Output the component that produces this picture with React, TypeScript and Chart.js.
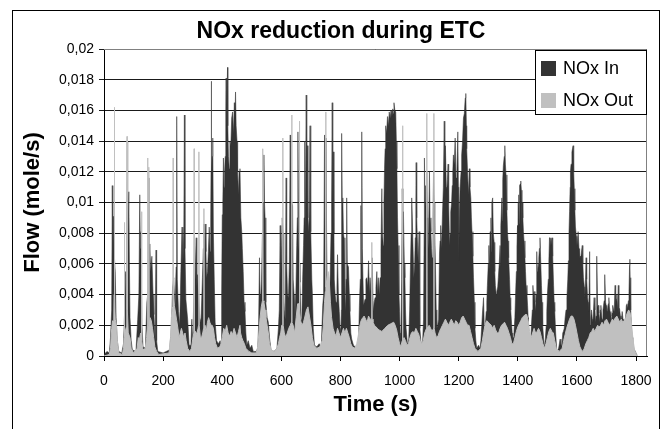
import React, { useEffect, useRef } from "react";
import { Chart, registerables } from "chart.js";

Chart.register(...registerables);

// values in 0.001 mole/s, [time (s), flow]
const UNIT = 0.001;

const NOX_IN: [number, number][] = [
  [0,0.1],[10,0.3],[18,0.2],[22,1.2],[26,3],[28,11.1],[30,6],[32,9.1],[35,6.5],[38,5.5],[41,2.5],[45,1],[50,0.3],[60,0.2],
  [66,0.8],[70,3],[73,5.5],[76,5],[79,14],[80,6],[84,10.7],[86,6],[88,2.5],[92,1],[96,0.4],[108,0.3],[114,2.4],[118,4],
  [121,10.5],[123,7],[125,8.1],[128,2.2],[132,0.6],[140,0.5],[145,3.5],[148,4],[150,11.6],[152,5],[155,7.3],[158,5.5],
  [162,6.5],[166,4],[169,2.7],[173,1],[176,6.9],[178,1],[182,0.3],[200,0.2],[222,0.4],[228,1.8],[232,4.5],[236,5.1],
  [240,3],[244,5.8],[246,15.6],[248,5],[252,2.9],[256,2],[260,5.5],[264,8.4],[267,6],[270,8],[272,15.7],[274,7],[277,3.7],
  [283,2.4],[288,0.7],[294,0.7],[297,2.4],[300,0.8],[304,3.8],[306,8.2],[308,5],[312,7.7],[314,4.5],[316,5.3],[319,4],
  [324,2.5],[328,2.2],[333,5.1],[336,7],[338,8.6],[340,6],[342,8.6],[345,6.8],[347,5.1],[350,5.5],[353,6.8],[356,8.4],
  [359,6.8],[361,9],[362,12],[363,17.9],[364,12],[366,13],[368,14.2],[370,8.1],[373,5],[376,2.2],[381,1],[387,0.8],
  [393,1],[396,0.6],[398,4],[400,9.2],[402,10],[404,12.9],[406,11],[408,12],[410,13],[412,15.9],[413,18.1],[414,15],
  [416,16],[418,18.8],[419,15],[421,13],[424,12.2],[426,14],[429,13.7],[432,15.5],[435,15.9],[438,14.5],[441,16.5],
  [443,15.5],[445,17.2],[447,15],[450,14],[452,12],[455,10.5],[457,12],[460,12.2],[463,9],[466,8.1],[468,7],[471,5.5],
  [474,3.5],[477,2.9],[480,1.5],[483,0.7],[488,1],[494,0.5],[500,0.7],[505,0.3],[515,0.3],[520,0.5],[523,2],[526,6.4],
  [528,4],[530,3.8],[533,5],[536,8],[538,10],[541,13.1],[543,10],[545,9],[547,5],[548,3.5],[552,2.5],[556,2.2],[560,1.2],
  [565,0.4],[575,0.3],[585,0.5],[590,1.8],[593,3],[596,8.5],[598,5],[601,7.2],[603,9],[606,8],[608,4],[610,3],[613,2.4],
  [616,11.6],[618,6],[621,4],[624,3.8],[627,6],[630,14.4],[632,7],[635,10],[638,9.8],[640,5],[643,4],[646,2.4],[649,4],
  [652,7.2],[654,9],[656,14.6],[658,8],[661,6],[663,4.8],[666,2.5],[669,2.2],[672,5],[675,7.2],[677,9],[679,14],[681,8],
  [684,17],[686,12],[688,13.7],[690,9],[693,8.1],[695,10],[697,15],[699,9],[700,8.1],[703,5],[705,4],[708,1.8],[712,0.7],
  [720,0.6],[728,0.8],[735,0.6],[740,3.3],[743,4],[746,14.4],[748,6],[751,14.2],[753,8],[755,4.6],[758,3],[762,3.5],
  [765,5],[768,8],[770,10],[772,16.5],[774,10],[776,13.3],[778,8],[779,5],[782,4],[785,3.5],[788,4.5],[790,6.6],[793,4],
  [796,2.9],[799,1.8],[801,1.1],[803,3],[804,14.5],[806,10],[808,10.3],[810,8],[812,7.7],[815,4],[817,2.9],[819,5],
  [821,10.3],[823,6],[827,5.8],[830,4],[832,2.9],[835,1.5],[838,1.1],[844,0.7],[855,0.5],[861,0.8],[864,3.3],[867,5],
  [869,9.8],[870,6],[872,14.6],[874,7],[878,3.3],[883,3.7],[886,5],[889,5.1],[892,4.5],[895,6.2],[898,4],[900,5.1],
  [904,4],[907,6.4],[911,2.9],[914,3.5],[917,3.8],[920,4.5],[923,5.5],[926,4],[928,5.1],[931,4],[934,5.1],[937,7],
  [940,10.9],[942,8],[945,7.2],[947,10],[949,12.2],[951,13.5],[953,15],[956,14.5],[959,15.6],[962,15],[965,15.9],
  [968,15.5],[971,16],[974,15.6],[977,16.1],[979,15.8],[981,16.5],[984,16],[987,15.9],[989,14],[991,12.2],[993,9],
  [995,7.2],[998,4],[1000,2.9],[1002,1.5],[1004,0.7],[1007,5],[1009,10.9],[1011,8],[1013,9.4],[1016,6],[1018,5.1],
  [1020,3],[1022,1.8],[1027,0.7],[1031,1.1],[1034,3],[1036,5.1],[1039,8],[1041,10.3],[1043,9],[1045,9],[1048,5.1],
  [1051,6],[1053,7.7],[1055,10],[1056,12.6],[1058,9],[1060,7.7],[1063,6],[1066,8.1],[1068,4],[1069,1.8],[1072,1],
  [1075,0.7],[1078,1],[1081,2.4],[1083,8],[1084,12.9],[1086,10],[1088,11.1],[1090,9],[1092,12],[1094,9],[1095,6.4],
  [1098,8],[1101,12],[1103,9],[1106,8.1],[1108,7],[1110,6.4],[1113,9],[1115,12.1],[1117,10],[1119,8],[1121,6.2],[1124,3],
  [1126,1.8],[1129,2],[1132,2.4],[1135,6.7],[1137,7.5],[1139,8.5],[1142,7],[1145,9.2],[1148,11],[1151,15.3],[1153,12],
  [1155,13.7],[1158,11],[1160,10.9],[1162,11.5],[1164,12.5],[1166,10],[1169,7.2],[1171,8],[1173,9.4],[1176,10],
  [1178,11.1],[1180,12],[1182,13.1],[1185,12.5],[1188,14.2],[1191,11.6],[1194,12],[1197,14.6],[1199,11],[1200,6.2],
  [1202,9],[1205,11.1],[1208,12],[1210,13.1],[1213,14],[1216,15.5],[1219,15.8],[1222,16.8],[1224,17.1],[1226,15],
  [1227,13.5],[1230,12],[1233,10.5],[1236,12.2],[1238,11],[1241,10.3],[1243,9],[1245,8.1],[1248,6.5],[1250,5.1],
  [1253,3.5],[1255,1.8],[1258,1],[1261,0.5],[1267,0.7],[1272,0.5],[1275,1],[1278,2],[1281,3],[1284,3.8],[1287,1.6],
  [1290,2],[1293,2.9],[1295,3.5],[1297,4.6],[1300,6],[1302,7.2],[1304,5.5],[1306,8.1],[1309,9],[1311,6.8],[1312,10],
  [1315,10.3],[1317,8],[1320,7.4],[1322,5.5],[1324,4.6],[1327,4],[1329,4.2],[1332,4.5],[1334,5.1],[1337,6],[1340,7.2],
  [1342,5.8],[1343,8.5],[1346,10.3],[1348,8.8],[1349,11.5],[1351,12.4],[1354,13],[1356,13.7],[1358,12.5],[1360,11.8],
  [1363,9.5],[1365,8.1],[1367,7.5],[1369,6.4],[1372,5],[1374,3.8],[1376,3],[1378,2.4],[1381,1.5],[1383,1.1],[1385,1.2],
  [1387,1.6],[1390,2.5],[1392,3.8],[1395,5.5],[1397,7.2],[1399,8.5],[1400,6.6],[1401,10],[1403,10.5],[1405,8.6],
  [1406,11.1],[1408,11.2],[1410,11.4],[1412,10.8],[1414,8.2],[1415,10],[1417,9],[1419,8.1],[1421,7.5],[1424,6.4],
  [1426,5.5],[1428,4.6],[1431,4],[1433,3.3],[1435,2.5],[1436,1.6],[1439,1],[1442,0.7],[1444,1],[1446,2],[1449,3],
  [1451,4.6],[1453,4],[1455,4.2],[1458,3.5],[1460,2.9],[1462,4],[1464,6.8],[1466,5.5],[1468,5.7],[1470,6],[1471,6.4],
  [1473,7],[1475,7.7],[1477,6.5],[1480,4.6],[1482,3.5],[1484,2],[1487,1.2],[1489,0.7],[1491,0.8],[1493,1.1],[1496,2],
  [1498,2.9],[1500,4],[1503,5],[1505,6.2],[1507,7.7],[1509,7.7],[1512,7.2],[1514,7.5],[1516,7.7],[1518,6.5],[1521,4.6],
  [1523,3.5],[1525,2.9],[1528,1.5],[1532,0.3],[1538,0.5],[1543,1.1],[1546,0.7],[1549,0.7],[1552,1.5],[1554,1.6],
  [1557,1.8],[1560,2.5],[1563,3],[1566,3.8],[1569,5],[1571,6.2],[1573,8],[1575,9.4],[1577,11],[1578,12],[1580,12.5],
  [1583,13.3],[1585,13.5],[1587,13.7],[1589,12],[1591,10.9],[1593,9.5],[1595,8.4],[1598,7.8],[1600,7.2],[1602,7.5],
  [1604,8.1],[1607,7],[1609,6.4],[1611,6.5],[1613,6.4],[1616,6.9],[1618,7.2],[1620,6],[1622,5.1],[1625,4.5],[1627,3.8],
  [1629,5],[1631,6.4],[1633,5],[1636,3.8],[1638,3.5],[1640,2.9],[1643,6.8],[1645,2],[1647,2.5],[1649,3],[1652,2.4],
  [1654,2.2],[1656,3],[1658,3.8],[1661,3],[1663,2.2],[1665,2.6],[1667,6.5],[1670,3.2],[1672,3.3],[1674,2.8],[1676,2.2],
  [1679,3],[1681,3.3],[1683,2.8],[1685,2.4],[1688,3],[1690,3.3],[1692,3.6],[1694,5.3],[1697,3.5],[1699,3.3],[1701,3],
  [1703,2.9],[1706,3.4],[1708,3.8],[1710,3.2],[1712,2.9],[1715,2.6],[1717,2.2],[1719,2.8],[1721,3.3],[1724,3],[1726,2.9],
  [1729,4.6],[1731,3.3],[1733,3.7],[1735,4],[1737,3],[1740,4.6],[1742,2.8],[1744,3.1],[1747,2.6],[1749,2.2],[1751,2.5],
  [1753,2.9],[1756,2.4],[1758,1.8],[1760,2],[1762,2.2],[1765,2.6],[1767,3.3],[1769,3.4],[1771,3.1],[1774,3.6],[1776,4.2],
  [1778,5.9],[1779,6.3],[1780,5.1],[1782,3],[1785,1.6],[1787,1.2],[1789,0.7],[1792,0.5],[1794,0.4],[1798,0.3],[1803,0],
];

const NOX_OUT: [number, number][] = [
  [0,0],[18,0.1],[22,0.5],[26,1.8],[29,2.3],[33,2.2],[34,4],[35,16.2],[36,4],[38,2.4],[42,2],[45,1],[50,0.2],[62,0.1],
  [66,0.5],[68,1.2],[69,8.7],[70,1.5],[73,1.7],[76,1.9],[77,4],[78,14.3],[79,3],[82,1.5],[88,1.2],[92,0.5],[100,0.2],
  [112,0.5],[116,1.2],[120,1.1],[124,1.5],[126,1.3],[127,9.4],[128,1],[132,0.4],[140,0.5],[144,1.2],[147,2],[148,12.9],
  [149,2],[151,1.8],[152,12.3],[153,2],[156,2.5],[160,2.3],[164,1.8],[168,1.2],[172,0.6],[178,0.3],[185,0.1],[220,0.2],
  [225,1.2],[228,2.5],[232,3.2],[233,4],[234,12.9],[235,4],[238,3.3],[242,2.8],[246,2.3],[250,1.8],[254,1.2],[258,1.5],
  [262,1.8],[266,1.5],[270,1.2],[274,1.5],[278,1],[283,0.5],[290,0.3],[296,0.5],[300,1.1],[304,1.5],[305,13.5],[306,1.6],
  [310,1.6],[314,1.4],[318,1.8],[320,2],[321,13.3],[322,2],[326,1.2],[330,1.2],[334,1.5],[337,1.8],[338,9.6],[339,1.8],
  [342,2],[346,1.6],[350,2.2],[354,2.5],[358,2.2],[362,2],[366,2],[370,1.8],[374,1.2],[378,0.8],[384,0.5],[392,0.6],
  [396,0.8],[400,1.2],[405,1.8],[410,1.6],[415,2],[420,1.5],[425,1.3],[430,1.6],[435,1.4],[440,1.8],[445,1.5],[450,1.2],
  [455,1.6],[460,2],[462,1.5],[466,1.2],[470,1],[475,0.8],[480,0.5],[490,0.3],[500,0.2],[515,0.2],[520,0.6],[524,1.5],
  [528,2.5],[532,3.2],[536,3.6],[537,13.5],[538,3.6],[541,3.5],[545,3],[548,2.5],[552,2],[556,1.5],[560,0.8],[566,0.4],
  [575,0.3],[585,0.5],[590,0.8],[594,1.2],[598,1.5],[601,2],[604,2],[605,14.2],[606,2],[610,1.5],[615,1.2],[620,1.5],
  [625,1.8],[630,2],[634,2.2],[635,15.7],[636,2.2],[640,2],[645,1.5],[650,2.5],[655,3.4],[660,3.4],[661,15.3],[662,3],
  [665,2.3],[670,2],[675,2.2],[680,2.6],[685,3],[690,3.2],[695,2.6],[700,2],[705,1.2],[710,0.7],[720,0.5],[730,0.6],
  [738,1],[742,2],[746,3.5],[749,4.2],[750,15.9],[751,4.5],[754,5],[758,5.5],[762,5],[766,3.5],[770,2.5],[775,1.8],
  [780,1.5],[785,1.3],[790,1.8],[795,1.5],[800,1.2],[805,1.5],[810,1.8],[815,1.5],[820,1.8],[825,1.5],[830,1.2],
  [835,0.8],[840,0.6],[848,0.5],[855,0.8],[860,1.3],[864,1.8],[868,2.2],[872,2.4],[876,2.5],[880,2.6],[885,2.4],
  [890,2.2],[895,2.6],[900,2.4],[905,2.4],[906,7.4],[907,2.4],[910,2.2],[915,2],[920,1.9],[925,1.8],[930,1.7],[940,1.6],
  [950,1.8],[960,2],[970,2.1],[980,2.2],[985,2],[990,1.7],[995,1.2],[1000,0.8],[1004,0.6],[1009,1],[1010,15],[1011,1],
  [1015,1.2],[1020,1],[1025,0.7],[1030,0.8],[1035,1.2],[1040,1.5],[1045,1.6],[1050,1.5],[1055,1.8],[1060,1.6],[1065,1.4],
  [1070,1],[1075,0.8],[1080,1],[1085,1.5],[1091,1.8],[1092,15.8],[1093,1.8],[1100,2],[1105,1.8],[1110,1.6],[1115,1.8],
  [1116,15.8],[1117,1.8],[1120,1.5],[1125,1.2],[1130,1.3],[1135,1.6],[1140,1.8],[1145,2],[1150,2.2],[1155,2.4],[1160,2.2],
  [1165,2],[1170,2.2],[1175,2.4],[1180,2.2],[1185,2],[1190,2.3],[1195,2.2],[1200,2],[1205,2.2],[1210,2.5],[1215,2.6],
  [1220,2.4],[1225,2.2],[1230,2],[1235,2],[1240,1.6],[1245,1.2],[1250,0.8],[1255,0.5],[1265,0.3],[1275,0.5],[1280,1],
  [1285,1.6],[1290,2.1],[1295,2.3],[1300,2.2],[1305,2.1],[1310,2],[1315,1.8],[1320,2],[1325,1.7],[1330,1.5],[1335,1.5],
  [1340,1.8],[1345,2],[1350,2.1],[1355,2.2],[1360,2],[1365,1.8],[1370,1.5],[1375,1.2],[1380,0.8],[1385,0.8],[1390,1.2],
  [1395,1.6],[1400,1.9],[1405,2.1],[1410,2.3],[1415,2.5],[1420,2.6],[1425,2.7],[1430,2.7],[1435,2.3],[1440,1.6],
  [1445,1.2],[1450,1.5],[1455,1.8],[1460,1.5],[1465,1.6],[1470,1.8],[1475,1.6],[1480,1.2],[1485,0.8],[1490,0.5],
  [1495,0.8],[1500,1.2],[1505,1.6],[1510,1.8],[1515,1.6],[1520,1.5],[1525,1],[1530,0.5],[1540,0.3],[1550,0.5],[1555,1],
  [1560,1.4],[1565,1.8],[1570,2.1],[1575,2.4],[1580,2.6],[1585,2.6],[1590,2.4],[1595,2],[1600,1.5],[1605,1],[1610,0.6],
  [1615,0.4],[1620,0.3],[1625,0.5],[1630,0.8],[1635,1],[1640,1.2],[1645,1.5],[1650,1.6],[1655,1.8],[1660,1.6],[1665,1.8],
  [1670,2],[1675,1.9],[1680,2],[1685,2.2],[1690,2],[1695,2.3],[1700,2.4],[1705,2.2],[1710,2],[1715,2.2],[1720,2.4],
  [1725,2.3],[1730,2.5],[1735,2.6],[1740,2.4],[1745,2.2],[1750,2.4],[1755,2.2],[1760,2.3],[1765,2.5],[1770,2.8],[1775,3],
  [1780,2.8],[1785,2],[1790,1],[1795,0.4],[1800,0.1],[1803,0],
];

const SERIES_NAMES = ["NOx In", "NOx Out"];
const SERIES_COLORS = ["#333333", "#c0c0c0"];
const X_TICKS = [0, 200, 400, 600, 800, 1000, 1200, 1400, 1600, 1800];
const Y_TICK_LABELS = ["0", "0,002", "0,004", "0,006", "0,008", "0,01", "0,012", "0,014", "0,016", "0,018", "0,02"];
const TITLE = "NOx reduction during ETC";
const X_TITLE = "Time (s)";
const Y_TITLE = "Flow (mole/s)";

const FONT = "'Liberation Sans', Arial, Helvetica, sans-serif";

export default function App() {
  const ref = useRef<HTMLCanvasElement | null>(null);

  useEffect(() => {
    if (!ref.current) return;

    const decorations = {
      id: "decorations",
      beforeDraw(chart: any) {
        const ctx = chart.ctx;
        ctx.save();
        ctx.fillStyle = "#ffffff";
        ctx.fillRect(0, 0, chart.width, chart.height);
        ctx.restore();
      },
      afterDraw(chart: any) {
        const ctx = chart.ctx;
        const a = chart.chartArea;
        ctx.save();
        // plot area border (top / right)
        ctx.strokeStyle = "#808080";
        ctx.lineWidth = 1;
        ctx.beginPath();
        ctx.moveTo(a.left, a.top + 0.5);
        ctx.lineTo(a.right - 0.5, a.top + 0.5);
        ctx.lineTo(a.right - 0.5, a.bottom);
        ctx.stroke();
        // outer frame
        ctx.strokeStyle = "#000000";
        ctx.strokeRect(12.5, 10.5, 647, 440);
        // legend
        const lx = 535, ly = 50, lw = 112, lh = 65;
        ctx.fillStyle = "#ffffff";
        ctx.fillRect(lx, ly, lw, lh);
        ctx.strokeStyle = "#000000";
        ctx.strokeRect(lx + 0.5, ly + 0.5, lw - 1, lh - 1);
        ctx.font = `18px ${FONT}`;
        ctx.textBaseline = "middle";
        ctx.textAlign = "left";
        SERIES_NAMES.forEach((name, i) => {
          const cy = ly + 18 + i * 32;
          ctx.fillStyle = SERIES_COLORS[i];
          ctx.fillRect(lx + 6, cy - 7, 15, 15);
          ctx.fillStyle = "#000000";
          ctx.fillText(name, lx + 28, cy + 1);
        });
        ctx.restore();
      },
    };

    const chart = new Chart(ref.current, {
      type: "line",
      data: {
        datasets: [
          {
            label: SERIES_NAMES[0],
            data: NOX_IN.map(([t, v]) => ({ x: t, y: v * UNIT })),
            backgroundColor: SERIES_COLORS[0],
            borderColor: "rgba(51,51,51,0.55)",
            borderWidth: 1,
            fill: "origin",
            pointRadius: 0,
            tension: 0,
            order: 1,
          },
          {
            label: SERIES_NAMES[1],
            data: NOX_OUT.map(([t, v]) => ({ x: t, y: v * UNIT })),
            backgroundColor: SERIES_COLORS[1],
            borderColor: SERIES_COLORS[1],
            borderWidth: 1,
            fill: "origin",
            pointRadius: 0,
            tension: 0,
            order: 0,
          },
        ],
      },
      options: {
        animation: false,
        responsive: false,
        devicePixelRatio: 1,
        layout: { padding: { left: 35, right: 24, top: 13, bottom: 7 } },
        plugins: {
          legend: { display: false },
          tooltip: { enabled: false },
          title: {
            display: true,
            text: TITLE,
            color: "#000",
            font: { family: FONT, size: 23, weight: "bold" },
            padding: { top: 5.2, bottom: 3.2 },
          },
        },
        scales: {
          x: {
            type: "linear",
            min: 0,
            max: 1837,
            z: 1,
            afterFit: (s: any) => {
              s.height = 66;
            },
            afterBuildTicks: (s: any) => {
              s.ticks = X_TICKS.map((v) => ({ value: v }));
            },
            ticks: {
              autoSkip: false,
              maxRotation: 0,
              color: "#000",
              padding: 12,
              font: { family: FONT, size: 14 },
              callback: (v: any) => String(v),
            },
            grid: { drawOnChartArea: false, drawTicks: true, tickLength: 5, color: "#000" },
            border: { color: "#000", width: 1 },
            title: {
              display: true,
              text: X_TITLE,
              color: "#000",
              font: { family: FONT, size: 22, weight: "bold" },
              padding: { top: 4, bottom: 4 },
            },
          },
          y: {
            type: "linear",
            min: 0,
            max: 0.02,
            z: 1,
            afterFit: (s: any) => {
              s.width = 69;
            },
            afterBuildTicks: (s: any) => {
              s.ticks = Y_TICK_LABELS.map((_, i) => ({ value: i * 0.002 }));
            },
            ticks: {
              color: "#000",
              padding: 5,
              font: { family: FONT, size: 14 },
              callback: (_v: any, i: number) => Y_TICK_LABELS[i],
            },
            grid: { color: "#1a1a1a", tickLength: 5, lineWidth: 1 },
            border: { color: "#000", width: 1 },
            title: {
              display: true,
              text: Y_TITLE,
              color: "#000",
              font: { family: FONT, size: 22, weight: "bold" },
              padding: { top: -15, bottom: 0 },
            },
          },
        },
      },
      plugins: [decorations],
    });

    return () => chart.destroy();
  }, []);

  return (
    <div style={{ position: "absolute", left: 0, top: 0, width: 671, height: 429, background: "#fff" }}>
      <canvas ref={ref} width={671} height={429} style={{ display: "block", width: 671, height: 429 }} />
    </div>
  );
}
